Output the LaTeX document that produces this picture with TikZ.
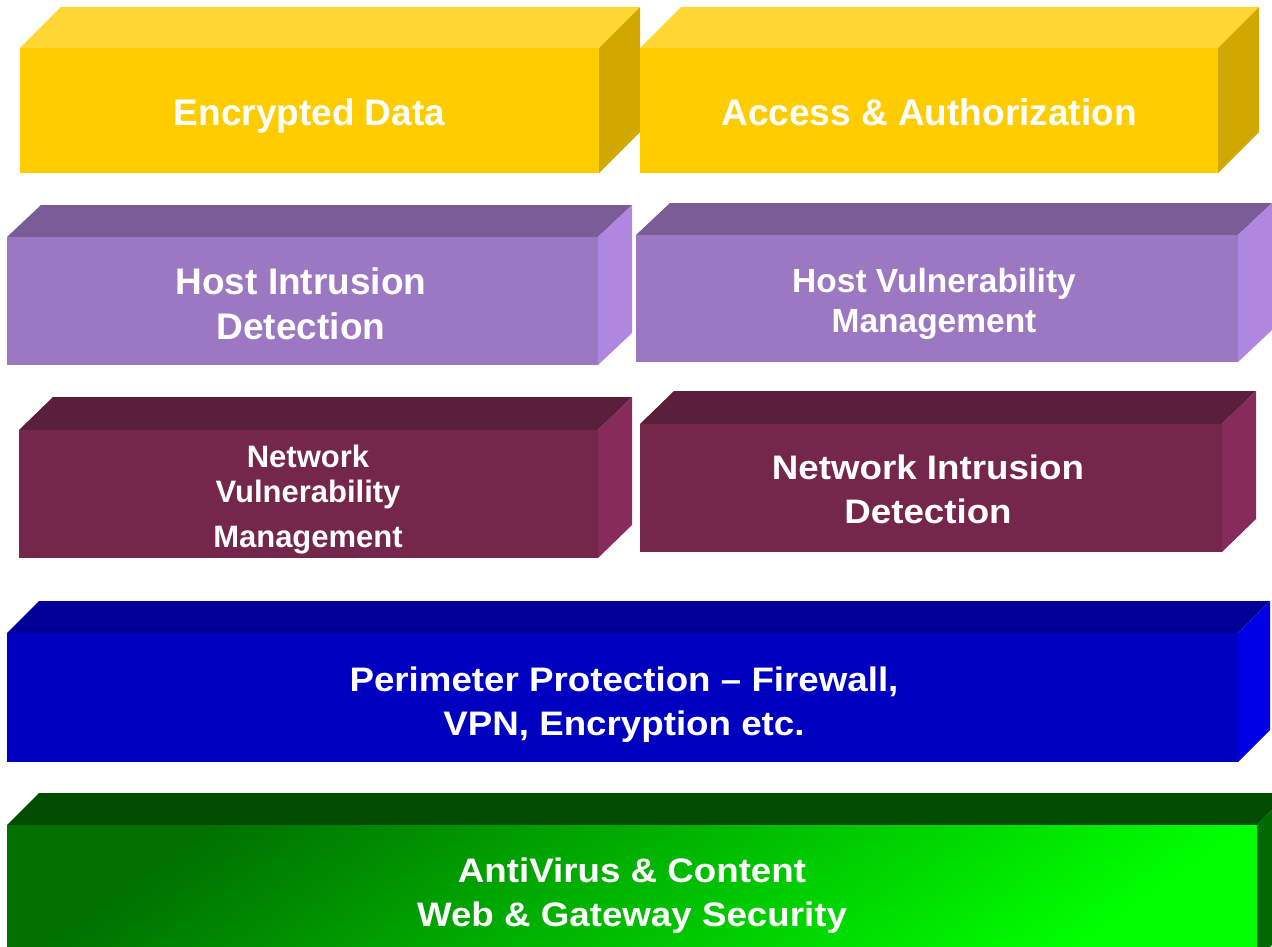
\documentclass[tikz,border=0pt]{standalone}
\usepackage{fontspec}
\setmainfont{Liberation Sans}
\newfontfamily\fA{Liberation Sans}
\newfontfamily\fB{Liberation Sans}[FakeStretch=1.08]
\definecolor{yFront}{HTML}{FFCC00}
\definecolor{yTop}{HTML}{FFD633}
\definecolor{ySide}{HTML}{D1A800}
\definecolor{pFront}{HTML}{9C77C2}
\definecolor{pTop}{HTML}{7A5C96}
\definecolor{pSide}{HTML}{B087E0}
\definecolor{mFront}{HTML}{74264B}
\definecolor{mTop}{HTML}{5B1F3E}
\definecolor{mSide}{HTML}{872C5A}
\definecolor{bFront}{HTML}{0000C0}
\definecolor{bTop}{HTML}{000099}
\definecolor{bSide}{HTML}{0000E6}
\definecolor{gDark}{HTML}{007000}
\definecolor{gBright}{HTML}{00FF00}
\definecolor{gTop}{HTML}{004C00}
\definecolor{gSide}{HTML}{006A00}
% #1,#2 front top-left; #3,#4 front bottom-right; #5 dx; #6 dy; #7 front style; #8 top colour; #9 side colour
\newcommand\slab[9]{%
  \fill[#8] (#1,#2) -- (#1+#5,#2-#6) -- (#3+#5,#2-#6) -- (#3,#2) -- cycle;
  \fill[#9] (#3,#2) -- (#3+#5,#2-#6) -- (#3+#5,#4-#6) -- (#3,#4) -- cycle;
  \path[#7] (#1,#2) rectangle (#3,#4);
}
\tikzset{
  lbl/.style={text=white, align=center, inner sep=0pt, anchor=north},
  fbig/.style={font={\fA\bfseries\fontsize{37}{44}\selectfont}},
}
\begin{document}
\begin{tikzpicture}[x=1pt,y=-1pt]
\useasboundingbox (0,0) rectangle (1272,947);
% yellow row
\slab{20}{48}{599}{173}{41}{41}{fill=yFront}{yTop}{ySide}
\slab{640}{48}{1218}{173}{41}{41}{fill=yFront}{yTop}{ySide}
% purple row
\slab{7}{237}{598}{365}{34}{32}{fill=pFront}{pTop}{pSide}
\slab{636}{235}{1238}{362}{34}{32}{fill=pFront}{pTop}{pSide}
% maroon row
\slab{19}{430}{598}{558}{34}{33}{fill=mFront}{mTop}{mSide}
\slab{640}{424}{1222}{552}{34}{33}{fill=mFront}{mTop}{mSide}
% blue
\slab{7}{633}{1238}{762}{32}{32}{fill=bFront}{bTop}{bSide}
% green
\slab{7}{825}{1257}{960}{32}{32}{top color=gDark, bottom color=gBright, shading angle=35}{gTop}{gSide}

\node[lbl, fbig] (enc) at (309.5,98) {Encrypted Data};
\node[lbl, fbig] (acc) at (929,98) {Access \& Authorization};
\node[lbl, font={\fA\bfseries\fontsize{37}{45}\selectfont}] (hid) at (301,267) {Host Intrusion\\Detection};
\node[lbl, font={\fA\bfseries\fontsize{33.5}{40}\selectfont}] (hvm) at (934,268) {Host Vulnerability\\Management};
\node[lbl, font={\fA\bfseries\fontsize{31}{35}\selectfont}] (nvm) at (308,445) {Network\\Vulnerability\\[10pt]Management};
\node[lbl, font={\fB\bfseries\fontsize{34}{44}\selectfont}] (nid) at (928,455) {Network Intrusion\\Detection};
\node[lbl, font={\fB\bfseries\fontsize{34}{44}\selectfont}] (per) at (624,667) {Perimeter Protection – Firewall,\\VPN, Encryption etc.};
\node[lbl, font={\fB\bfseries\fontsize{34}{44}\selectfont}] (av) at (632,858) {AntiVirus \& Content\\Web \& Gateway Security};
\end{tikzpicture}
\end{document}
